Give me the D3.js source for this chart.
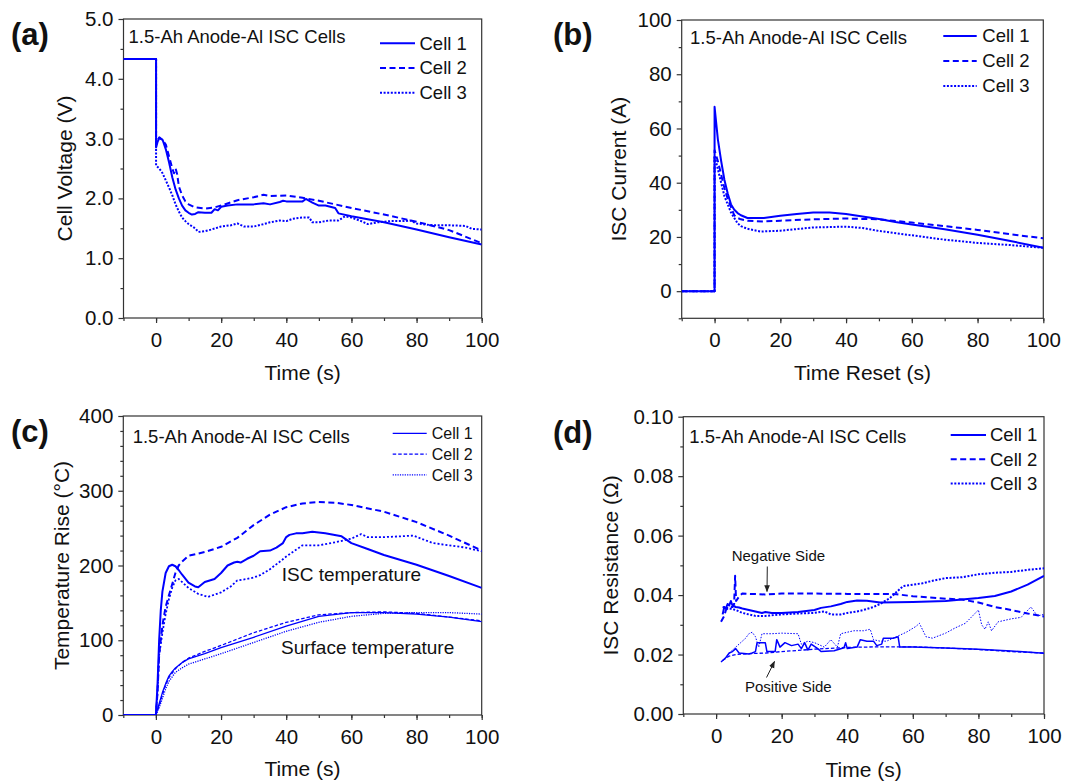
<!DOCTYPE html>
<html>
<head>
<meta charset="utf-8">
<script src="https://cdn.jsdelivr.net/npm/d3@7"></script>
<style>
  html, body { margin: 0; padding: 0; background: #fff; }
  svg text { font-family: "Liberation Sans", Arial, sans-serif; fill: #111; }
</style>
</head>
<body>
<svg id="chart" width="1074" height="781"></svg>
<script>
// ---------------- Data ----------------
const cellNames = ["Cell 1", "Cell 2", "Cell 3"];
const xTicks = [0, 20, 40, 60, 80, 100];
const voltTicks = [0, 1, 2, 3, 4, 5];
const currTicks = [0, 20, 40, 60, 80, 100];
const tempTicks = [0, 100, 200, 300, 400];
const resTicks = [0, 0.02, 0.04, 0.06, 0.08, 0.10];

// (a) Cell voltage [time s, V]
const voltCell1 = [[-10,4.33],[0,4.33],[0,2.85],[0.5,2.95],[1,3.01],[2,2.98],[3,2.82],[4,2.6],[5,2.35],[6,2.15],[7,2.0],[8,1.88],[9,1.8],[10,1.76],[11,1.73],[12,1.74],[13,1.77],[15,1.76],[17,1.76],[18,1.82],[19,1.8],[20,1.86],[22,1.88],[25,1.9],[28,1.9],[30,1.9],[33,1.92],[35,1.9],[38,1.94],[39,1.96],[40,1.95],[42,1.95],[45,1.95],[46,1.99],[48,1.93],[50,1.88],[52,1.88],[55,1.84],[56,1.75],[60,1.7],[70,1.6],[80,1.48],[90,1.35],[100,1.23]];
const voltCell2 = [[-10,4.33],[0,4.33],[0,2.9],[0.5,2.98],[1,3.02],[2,2.98],[3,2.9],[4,2.7],[5,2.5],[5.5,2.42],[6,2.5],[6.5,2.4],[7,2.2],[8,2.05],[9,1.95],[10,1.9],[12,1.85],[15,1.83],[18,1.85],[20,1.88],[25,1.97],[30,2.02],[33,2.06],[35,2.04],[40,2.05],[45,2.01],[50,1.96],[55,1.9],[60,1.84],[70,1.73],[80,1.61],[90,1.47],[100,1.25]];
const voltCell3 = [[-10,4.33],[0,4.33],[0,2.55],[1,2.5],[2,2.42],[3,2.3],[4,2.18],[5,2.05],[6,1.9],[7,1.78],[8,1.68],[9,1.62],[10,1.57],[12,1.5],[13,1.44],[15,1.45],[17,1.48],[20,1.53],[23,1.55],[25,1.58],[27,1.53],[30,1.53],[33,1.57],[35,1.6],[38,1.63],[40,1.62],[42,1.66],[45,1.68],[47,1.68],[48,1.6],[50,1.6],[53,1.63],[56,1.63],[58,1.7],[60,1.68],[63,1.62],[65,1.57],[68,1.6],[72,1.62],[76,1.62],[78,1.63],[80,1.58],[85,1.55],[90,1.55],[95,1.54],[97,1.49],[100,1.48]];

// (b) ISC current [time s, A]
const currCell1 = [[-10,0],[0,0],[0,68],[0.5,62],[1,56],[2,48],[3,41],[4,36],[5,32],[6,30],[7,28.8],[8,28],[10,27],[15,27],[20,27.8],[25,28.5],[30,29],[35,29],[40,28.5],[45,27.5],[50,26.6],[55,25.5],[60,24.6],[70,22.8],[80,20.8],[90,18.5],[100,16]];
const currCell2 = [[-10,0],[0,0],[0,52],[1,48],[2,43],[3,38],[4,34],[5,31],[6,28],[7,27],[8,26.5],[10,26],[15,25.7],[20,26],[30,26.5],[40,26.8],[50,26.5],[60,25.3],[70,24],[80,22.6],[90,21],[100,19.5]];
const currCell3 = [[-10,0],[0,0],[0,50],[1,45],[2,40],[3,35],[4,32],[5,29],[6,27],[7,25],[8,24],[10,23],[14,22],[20,22.3],[30,23.5],[40,23.8],[45,23.3],[50,22.2],[60,20.6],[70,19],[80,17.8],[90,17],[100,16]];

// (c) Temperature rise [time s, °C]
const iscTempCell1 = [[-10,0],[0,0],[0.5,40],[1,100],[1.5,140],[2,165],[3,190],[4,199],[5,201],[6,199],[7,194],[8,188],[10,177],[12,172],[13,171],[15,178],[18,182],[20,190],[22,200],[24,204],[25,205],[26,204],[28,209],[30,213],[32,219],[35,220],[37,224],[39,230],[40,238],[41,241],[43,243],[45,243],[48,245],[52,243],[57,239],[60,230],[65,222],[70,214],[80,201],[90,186],[100,170]];
const iscTempCell2 = [[-10,0],[0,0],[0.5,30],[1,80],[2,120],[3,145],[4,160],[5,175],[6,190],[7,200],[8,205],[10,213],[15,218],[20,225],[25,237],[30,254],[35,268],[40,278],[45,283],[50,285],[55,284],[60,281],[70,272],[80,258],[90,240],[100,220]];
const iscTempCell3 = [[-10,0],[0,0],[0.5,30],[1,80],[2,110],[3,135],[4,155],[5,170],[6,180],[7,182],[8,178],[10,170],[13,162],[16,158],[20,164],[23,172],[25,180],[28,182],[30,184],[32,187],[35,195],[38,205],[40,212],[43,221],[45,227],[48,227],[50,227],[55,231],[60,236],[63,242],[65,238],[70,238],[75,239],[79,240],[82,235],[85,230],[90,227],[95,224],[100,219]];
const surfTempCell1 = [[0,0],[1,15],[2,30],[3,42],[4,52],[5,58],[6,63],[8,70],[10,75],[15,82],[20,90],[30,104],[40,119],[50,132],[60,137],[70,137],[80,135],[90,131],[100,125]];
const surfTempCell2 = [[0,0],[1,12],[2,27],[3,40],[4,50],[6,62],[8,70],[10,76],[15,85],[20,93],[30,110],[40,124],[50,134],[60,137],[70,138],[80,136],[90,131],[100,126]];
const surfTempCell3 = [[0,0],[1,10],[2,22],[3,35],[4,45],[6,57],[8,63],[10,68],[15,75],[20,82],[30,97],[40,112],[50,124],[60,132],[70,136],[80,137],[90,137],[100,135]];

// (d) ISC resistance [time s, ohm]
const negResCell1 = [[2,0.0335],[2.5,0.036],[3,0.0355],[3.5,0.037],[4,0.0365],[4.5,0.038],[5,0.0365],[6,0.036],[7,0.0358],[8,0.0355],[10,0.035],[12,0.0345],[14,0.034],[15,0.0343],[17,0.034],[20,0.034],[25,0.0343],[30,0.035],[32,0.0357],[35,0.0362],[38,0.037],[40,0.0377],[43,0.0382],[46,0.0381],[50,0.0375],[55,0.0376],[60,0.0377],[65,0.0378],[70,0.038],[75,0.0385],[80,0.039],[85,0.0397],[90,0.0412],[95,0.0435],[100,0.0465]];
const negResCell2 = [[1.5,0.031],[2.5,0.033],[3,0.035],[4,0.036],[5,0.036],[5.5,0.037],[5.8,0.0465],[6.1,0.038],[7,0.0395],[8,0.0405],[15,0.0402],[20,0.0405],[30,0.0405],[40,0.0404],[50,0.0404],[55,0.0403],[60,0.0396],[70,0.0388],[75,0.0385],[80,0.0375],[85,0.036],[90,0.035],[95,0.0338],[100,0.0328]];
const negResCell3 = [[2,0.036],[4,0.0355],[6,0.035],[8,0.034],[10,0.0335],[12,0.033],[15,0.033],[20,0.0335],[25,0.0338],[30,0.034],[33,0.0345],[35,0.0335],[38,0.0335],[40,0.034],[43,0.0345],[45,0.035],[48,0.036],[50,0.037],[53,0.039],[55,0.041],[57,0.043],[60,0.0435],[63,0.044],[66,0.0448],[70,0.0457],[75,0.046],[80,0.047],[85,0.0475],[90,0.0478],[95,0.0485],[100,0.049]];
const posResCell1 = [[1.5,0.0175],[3,0.019],[4,0.0205],[5,0.021],[6,0.022],[7,0.0205],[10,0.0202],[11,0.0205],[12,0.021],[12.5,0.024],[15,0.024],[15.5,0.021],[18,0.021],[18.5,0.025],[19.5,0.0225],[21,0.024],[23,0.023],[25,0.0235],[26,0.022],[27,0.024],[28,0.0215],[29,0.0235],[31,0.022],[32,0.021],[36,0.0213],[39,0.0223],[39.5,0.024],[40,0.022],[43,0.0225],[44,0.025],[46,0.0245],[48,0.0245],[49,0.023],[50.5,0.0235],[51,0.0255],[54,0.0255],[55.5,0.026],[56,0.0225],[60,0.0225],[70,0.0222],[80,0.0218],[90,0.0212],[100,0.0204]];
const posResCell2 = [[2,0.018],[4,0.0195],[6,0.02],[10,0.0203],[15,0.0205],[20,0.021],[30,0.0218],[40,0.0224],[50,0.0226],[60,0.0226],[70,0.0222],[80,0.0217],[90,0.021],[100,0.0205]];
const posResCell3 = [[1.5,0.0175],[3,0.019],[4,0.0205],[6,0.0225],[8,0.0245],[9,0.0255],[10,0.027],[11,0.0275],[12,0.026],[13,0.0225],[14,0.027],[17,0.027],[20,0.0272],[25,0.027],[26,0.0235],[28,0.0245],[30,0.024],[33,0.0225],[35,0.025],[37,0.0225],[38,0.027],[40,0.0275],[42,0.028],[45,0.028],[47,0.0285],[48,0.025],[50,0.0245],[52,0.0245],[55,0.026],[58,0.0275],[61,0.0295],[62,0.0305],[64,0.026],[66,0.0255],[70,0.0272],[73,0.029],[76,0.0305],[80,0.035],[81,0.03],[82,0.0285],[83,0.031],[84,0.028],[86,0.031],[90,0.032],[93,0.0325],[96,0.036],[98,0.033],[100,0.0335]];

// ---------------- Drawing ----------------
const svg = d3.select("#chart");
const BLUE = "#0000ff";
const AXIS = "#333";
const xDomain = [-10, 100];
const xMinor = d3.range(-10, 101, 10);

const dashA = { solid: null, dash: "6,3.5", dot: "2,1.6" };
const dashC = { solid: null, dash: "3.5,2", dot: "1.2,1.2" };

function drawPanel(p) {
  const g = svg.append("g");
  const x = d3.scaleLinear().domain(xDomain).range([p.left, p.right]);
  const y = d3.scaleLinear().domain(p.yDomain).range([p.bottom, p.top]);

  const styleAxis = s => {
    s.select(".domain").remove();
    s.selectAll(".tick line").attr("stroke", AXIS).attr("stroke-width", 1.2);
    s.selectAll(".tick text").style("font-size", "20.5px").attr("fill", "#111");
  };

  // minor ticks
  g.append("g").attr("transform", `translate(0,${p.bottom})`)
    .call(d3.axisBottom(x).tickValues(xMinor).tickSize(3).tickFormat(""))
    .call(styleAxis);
  g.append("g").attr("transform", `translate(${p.left},0)`)
    .call(d3.axisLeft(y).tickValues(p.yMinor).tickSize(3).tickFormat(""))
    .call(styleAxis);
  // major ticks
  g.append("g").attr("transform", `translate(0,${p.bottom})`)
    .call(d3.axisBottom(x).tickValues(xTicks).tickSize(5).tickPadding(9).tickFormat(d3.format("d")))
    .call(styleAxis);
  g.append("g").attr("transform", `translate(${p.left},0)`)
    .call(d3.axisLeft(y).tickValues(p.yTicks).tickSize(5).tickPadding(5).tickFormat(p.fmt))
    .call(styleAxis);

  // frame
  g.append("rect")
    .attr("x", p.left).attr("y", p.top)
    .attr("width", p.right - p.left).attr("height", p.bottom - p.top)
    .attr("fill", "none").attr("stroke", AXIS).attr("stroke-width", 1.2);

  // clip
  const cid = "clip-" + p.id;
  svg.append("clipPath").attr("id", cid).append("rect")
    .attr("x", p.left).attr("y", p.top)
    .attr("width", p.right - p.left).attr("height", p.bottom - p.top);

  const line = d3.line().x(d => x(d[0])).y(d => y(d[1]));
  const lg = g.append("g").attr("clip-path", `url(#${cid})`);
  p.series.forEach(s => {
    lg.append("path").datum(s.data)
      .attr("d", line)
      .attr("fill", "none")
      .attr("stroke", BLUE)
      .attr("stroke-width", s.w)
      .attr("stroke-linejoin", "round")
      .attr("stroke-dasharray", s.dash);
  });

  // panel label
  g.append("text").attr("x", p.labelX).attr("y", p.labelY)
    .style("font-size", "31px").style("font-weight", "bold").text(p.label);

  // in-plot title
  g.append("text").attr("x", p.noteX).attr("y", p.noteY)
    .style("font-size", "18.5px").text("1.5-Ah Anode-Al ISC Cells");

  // axis titles
  g.append("text")
    .attr("x", (p.left + p.right) / 2).attr("y", p.xTitleY)
    .attr("text-anchor", "middle").style("font-size", "21px").text(p.xTitle);
  g.append("text")
    .attr("transform", `translate(${p.yTitleX},${(p.top + p.bottom) / 2}) rotate(-90)`)
    .attr("text-anchor", "middle").style("font-size", "21px").text(p.yTitle);

  // legend
  const L = p.legend;
  cellNames.forEach((name, i) => {
    const yy = L.y0 + i * L.dy;
    g.append("line")
      .attr("x1", L.x1).attr("x2", L.x2).attr("y1", yy).attr("y2", yy)
      .attr("stroke", BLUE).attr("stroke-width", L.w)
      .attr("stroke-dasharray", L.dashes[i]);
    g.append("text").attr("x", L.tx).attr("y", yy + L.fs * 0.35)
      .style("font-size", L.fs + "px").text(name);
  });
  return { g, x, y };
}

// (a)
drawPanel({
  id: "a", left: 123.5, top: 19, right: 481.7, bottom: 318,
  yDomain: [0, 5], yTicks: voltTicks, yMinor: d3.range(0.5, 5, 1), fmt: d3.format(".1f"),
  label: "(a)", labelX: 11, labelY: 45, noteX: 128.5, noteY: 42.7,
  xTitle: "Time (s)", xTitleY: 380, yTitle: "Cell Voltage (V)", yTitleX: 72,
  legend: { x1: 380, x2: 415, tx: 419.5, y0: 43.3, dy: 24.7, fs: 18.5, w: 2, dashes: [null, dashA.dash, dashA.dot] },
  series: [
    { data: voltCell3, w: 2, dash: dashA.dot },
    { data: voltCell2, w: 2, dash: dashA.dash },
    { data: voltCell1, w: 2, dash: null }
  ]
});

// (b)
drawPanel({
  id: "b", left: 681.7, top: 20, right: 1043.3, bottom: 318.3,
  yDomain: [-10, 100], yTicks: currTicks, yMinor: d3.range(-10, 100, 20), fmt: d3.format("d"),
  label: "(b)", labelX: 553, labelY: 45, noteX: 690, noteY: 44.3,
  xTitle: "Time Reset (s)", xTitleY: 380, yTitle: "ISC Current (A)", yTitleX: 626,
  legend: { x1: 943.3, x2: 976.7, tx: 982.3, y0: 36, dy: 25, fs: 18.5, w: 2, dashes: [null, dashA.dash, dashA.dot] },
  series: [
    { data: currCell3, w: 2, dash: dashA.dot },
    { data: currCell2, w: 2, dash: dashA.dash },
    { data: currCell1, w: 2, dash: null }
  ]
});

// (c)
const pc = drawPanel({
  id: "c", left: 123.3, top: 416, right: 481.7, bottom: 715,
  yDomain: [0, 400], yTicks: tempTicks, yMinor: d3.range(20, 400, 20).filter(v => v % 100 !== 0), fmt: d3.format("d"),
  label: "(c)", labelX: 11, labelY: 442, noteX: 132.7, noteY: 442.7,
  xTitle: "Time (s)", xTitleY: 776, yTitle: "Temperature Rise (°C)", yTitleX: 68.5,
  legend: { x1: 392.7, x2: 426.7, tx: 431.7, y0: 433.3, dy: 20.8, fs: 16, w: 1.3, dashes: [null, dashC.dash, dashC.dot] },
  series: [
    { data: surfTempCell3, w: 1.3, dash: dashC.dot },
    { data: surfTempCell2, w: 1.3, dash: dashC.dash },
    { data: surfTempCell1, w: 1.3, dash: null },
    { data: iscTempCell3, w: 1.8, dash: "2,2" },
    { data: iscTempCell2, w: 2, dash: "6,3.5" },
    { data: iscTempCell1, w: 2, dash: null }
  ]
});
pc.g.append("text").attr("x", 281.7).attr("y", 581).style("font-size", "19px").text("ISC temperature");
pc.g.append("text").attr("x", 281).attr("y", 654).style("font-size", "19px").text("Surface temperature");

// (d)
const pd = drawPanel({
  id: "d", left: 683.3, top: 416.7, right: 1044, bottom: 714,
  yDomain: [0, 0.1], yTicks: resTicks, yMinor: d3.range(0.01, 0.1, 0.02), fmt: d3.format(".2f"),
  label: "(d)", labelX: 553, labelY: 443, noteX: 689.3, noteY: 443.3,
  xTitle: "Time (s)", xTitleY: 776.5, yTitle: "ISC Resistance (Ω)", yTitleX: 618,
  legend: { x1: 950.7, x2: 986, tx: 990, y0: 435, dy: 24.2, fs: 18.5, w: 2, dashes: [null, dashA.dash, dashA.dot] },
  series: [
    { data: posResCell3, w: 1, dash: "1.5,1.5" },
    { data: posResCell2, w: 1.3, dash: "3.5,2" },
    { data: posResCell1, w: 1.5, dash: null },
    { data: negResCell3, w: 2, dash: dashA.dot },
    { data: negResCell2, w: 2, dash: dashA.dash },
    { data: negResCell1, w: 2, dash: null }
  ]
});
pd.g.append("text").attr("x", 731.7).attr("y", 560.5).style("font-size", "15px").attr("fill", "#222").text("Negative Side");
pd.g.append("text").attr("x", 745).attr("y", 692).style("font-size", "15px").attr("fill", "#222").text("Positive Side");

// arrows
const defs = svg.append("defs");
defs.append("marker").attr("id", "arrow").attr("viewBox", "0 0 10 10")
  .attr("refX", 9).attr("refY", 5).attr("markerWidth", 7).attr("markerHeight", 7)
  .attr("orient", "auto").attr("markerUnits", "userSpaceOnUse")
  .append("path").attr("d", "M0,1 L10,5 L0,9 Z").attr("fill", "#222");
pd.g.append("line").attr("x1", 767.3).attr("y1", 566.5).attr("x2", 767).attr("y2", 591.5)
  .attr("stroke", "#222").attr("stroke-width", 1).attr("marker-end", "url(#arrow)");
pd.g.append("line").attr("x1", 766.5).attr("y1", 677.5).attr("x2", 774.5).attr("y2", 661.5)
  .attr("stroke", "#222").attr("stroke-width", 1).attr("marker-end", "url(#arrow)");
</script>
</body>
</html>
